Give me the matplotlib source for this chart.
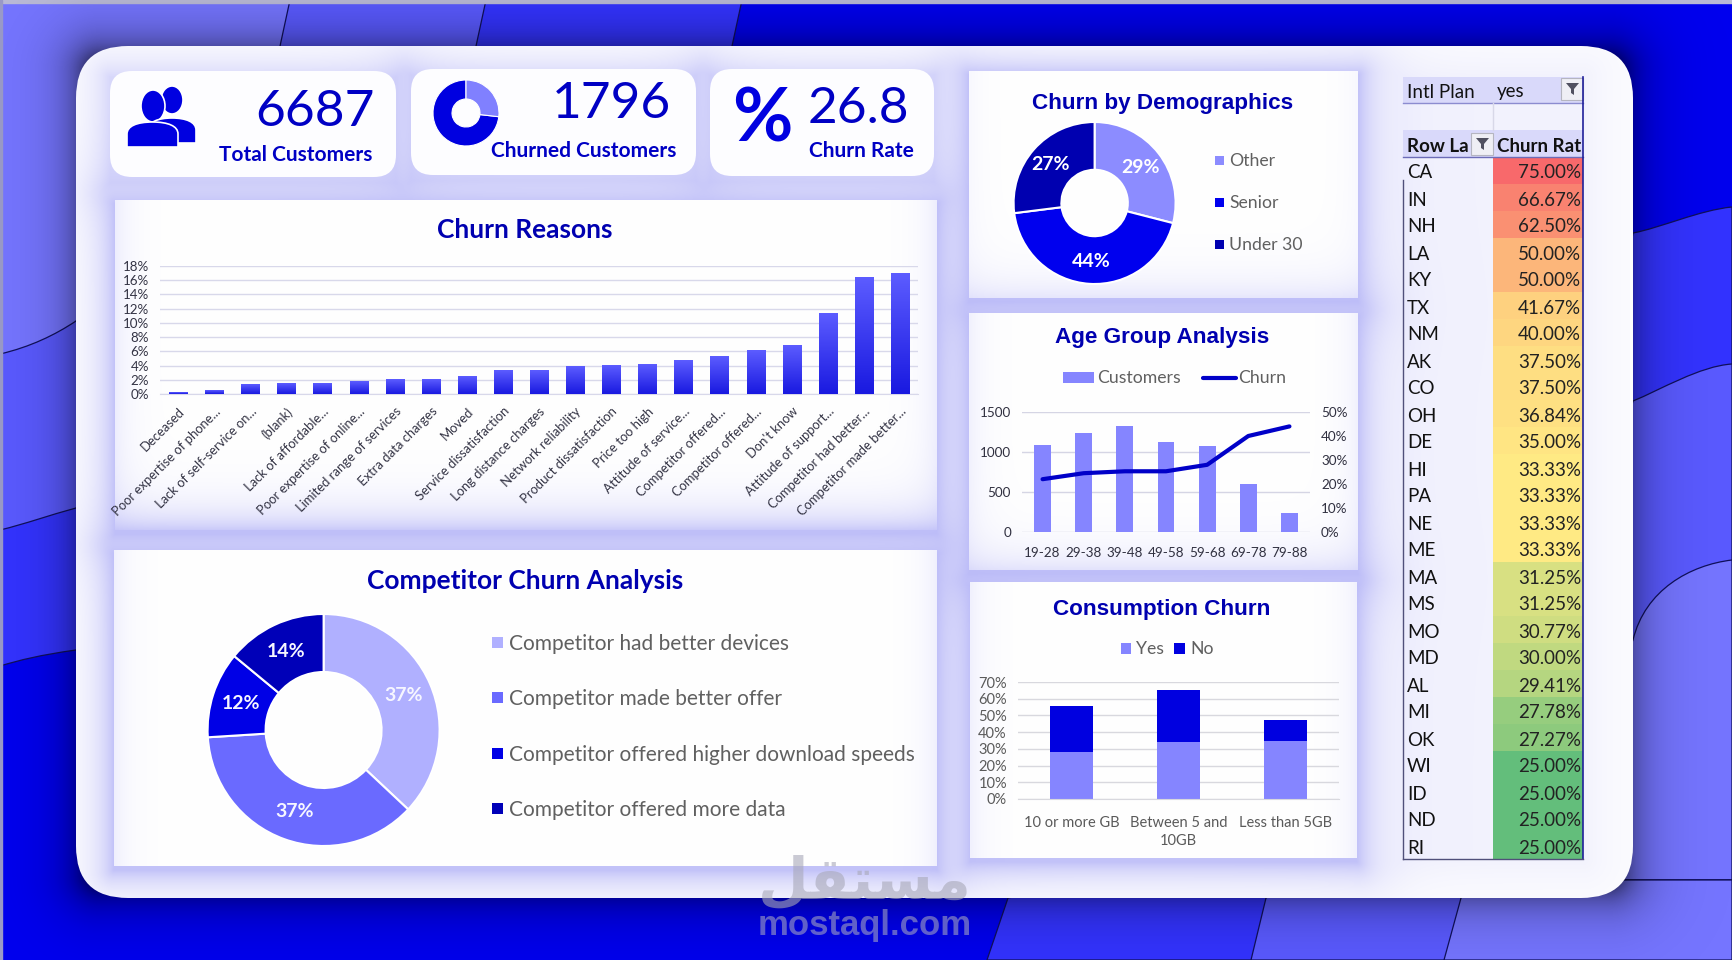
import numpy as np
import matplotlib
matplotlib.use("Agg")
import matplotlib.pyplot as plt
from matplotlib.path import Path
from matplotlib.patches import PathPatch, FancyBboxPatch, Rectangle, Ellipse, Wedge, Polygon
from matplotlib.colors import LinearSegmentedColormap, TwoSlopeNorm
from matplotlib.ticker import PercentFormatter

# ---------- data ----------
kpi_total = 6687
kpi_churned = 1796
kpi_rate = 26.8

reason_labels = ["Deceased", "Poor expertise of phone...", "Lack of self-service on...", "(blank)",
                 "Lack of affordable...", "Poor expertise of online...", "Limited range of services",
                 "Extra data charges", "Moved", "Service dissatisfaction", "Long distance charges",
                 "Network reliability", "Product dissatisfaction", "Price too high", "Attitude of service...",
                 "Competitor offered...", "Competitor offered...", "Don't know", "Attitude of support...",
                 "Competitor had better...", "Competitor made better..."]
reason_values = [0.2, 0.5, 1.3, 1.5, 1.5, 1.7, 2.0, 2.1, 2.5, 3.3, 3.3, 3.9, 4.0, 4.2, 4.7, 5.3, 6.1, 6.8, 11.3, 16.4, 16.9]

comp_labels = ["Competitor had better devices", "Competitor made better offer",
               "Competitor offered higher download speeds", "Competitor offered more data"]
comp_values = [37, 37, 12, 14]
comp_colors = ["#b0b0ff", "#6a6aff", "#0000e6", "#0000b8"]

demo_labels = ["Other", "Senior", "Under 30"]
demo_values = [29, 44, 27]
demo_colors = ["#8c8cff", "#0000ee", "#0000b0"]

age_groups = ["19-28", "29-38", "39-48", "49-58", "59-68", "69-78", "79-88"]
age_customers = [1090, 1240, 1320, 1130, 1080, 600, 240]
age_churn = [22, 24.5, 25.3, 25.3, 28, 40, 44]

cons_labels = ["10 or more GB", "Between 5 and\n10GB", "Less than 5GB"]
cons_yes = [28, 34, 35]
cons_no = [27.5, 31.5, 12]

states = ["CA", "IN", "NH", "LA", "KY", "TX", "NM", "AK", "CO", "OH", "DE", "HI", "PA", "NE", "ME",
          "MA", "MS", "MO", "MD", "AL", "MI", "OK", "WI", "ID", "ND", "RI"]
state_rates = [75.00, 66.67, 62.50, 50.00, 50.00, 41.67, 40.00, 37.50, 37.50, 36.84, 35.00, 33.33, 33.33,
               33.33, 33.33, 31.25, 31.25, 30.77, 30.00, 29.41, 27.78, 27.27, 25.00, 25.00, 25.00, 25.00]

# ---------- style ----------
W, H = 1732, 960
BODY = "Lato"
HEAD = "Liberation Sans"
NAVY = "#0000c4"
TITLE = "#0000b0"
L1, L2, L3, BASE = "#7575ff", "#5a5aff", "#3333ff", "#0000ee"
plt.rcParams["font.family"] = [BODY, "DejaVu Sans"]

fig = plt.figure(figsize=(W / 100, H / 100), dpi=100)
bg = fig.add_axes([0, 0, 1, 1])
bg.set_xlim(0, W)
bg.set_ylim(H, 0)
bg.axis("off")


def rect_ax(x0, y0, x1, y1):
    a = fig.add_axes([x0 / W, 1 - y1 / H, (x1 - x0) / W, (y1 - y0) / H])
    a.patch.set_alpha(0)
    return a


def shape(verts, color, z=1):
    """verts: first point, then triples of bezier control points"""
    codes = [Path.MOVETO]
    pts = [verts[0]]
    for v in verts[1:]:
        if len(v) == 3:
            codes += [Path.CURVE4] * 3
            pts += list(v)
        else:
            codes.append(Path.LINETO)
            pts.append(v)
    codes.append(Path.CLOSEPOLY)
    pts.append(verts[0])
    bg.add_patch(PathPatch(Path(pts, codes), facecolor=color, edgecolor="#10105a", lw=0.9, zorder=z))


# ---------- background waves ----------
bg.add_patch(Rectangle((0, 0), W, H, color=BASE, zorder=0))
shape([(0, 0), (742, 0), (729, 60), (76, 650), ((40, 655), (20, 660), (0, 666))], L3)
shape([(0, 0), (486, 0), (473, 60), (76, 508), ((50, 515), (25, 524), (0, 530))], L2)
shape([(0, 0), (290, 0), (277, 60), (76, 321), ((55, 335), (30, 347), (0, 354))], L1)
shape([(1732, 207), ((1700, 210), (1660, 228), (1633, 233)), (1500, 960), (1732, 960)], L3)
shape([(1732, 364), ((1700, 366), (1660, 390), (1633, 401)), (1500, 960), (1732, 960)], L2)
shape([(1732, 560), ((1690, 565), (1645, 590), (1633, 640)), (1500, 960), (1732, 960)], L1)
shape([(1100, 880), (1008, 898), (987, 960), (1732, 960), (1732, 880)], L3)
shape([(1300, 880), (1266, 898), (1251, 960), (1732, 960), (1732, 880)], L2)
shape([(1480, 880), (1461, 898), (1444, 960), (1732, 960), (1732, 880)], L1)
bg.add_patch(Rectangle((0, 0), W, 3, color="#b9b9d6", zorder=2))
bg.add_patch(Rectangle((0, 0), 1.5, H, color="#9a9ac8", zorder=2))

# ---------- soft shading ----------
PX0, PY0, PX1, PY1 = 76, 46, 1633, 898
yy, xx = np.mgrid[0:H, 0:W] + 0.5


def rect_dist(x0, y0, x1, y1):
    dx = np.maximum(np.maximum(x0 - xx, xx - x1), 0)
    dy = np.maximum(np.maximum(y0 - yy, yy - y1), 0)
    return np.hypot(dx, dy)


shadow = np.zeros((H, W, 4))
shadow[..., 3] = 0.5 * np.exp(-rect_dist(PX0 + 25, PY0 + 25, PX1 - 25, PY1 - 25) / 22.0) * 2.2
shadow[..., 3] = np.minimum(shadow[..., 3], 0.5)
bg.imshow(shadow, extent=(0, W, H, 0), aspect="auto", zorder=3, interpolation="bilinear")

cards = [(110, 71, 396, 177), (411, 69, 696, 175), (710, 69, 934, 176)]
panels = [(115, 200, 937, 530), (114, 550, 937, 866), (969, 71, 1358, 298), (969, 313, 1358, 570), (970, 582, 1357, 858)]

white = np.array([1.0, 1.0, 1.0])
lav = np.array([0.72, 0.72, 0.97])
keep = np.ones((H, W))
for r in cards:
    keep *= 1 - 0.55 * np.exp(-rect_dist(r[0], r[1] + 6, r[2], r[3] + 6) / 22.0)
for r in panels:
    keep *= 1 - 0.85 * np.exp(-rect_dist(r[0], r[1] + 4, r[2], r[3] + 4) / 20.0)
keep *= 1 - 0.18 * np.exp(-rect_dist(1404, 77, 1583, 859) / 40.0)
img = keep[..., None] * white + (1 - keep[..., None]) * lav
pim = bg.imshow(img, extent=(0, W, H, 0), aspect="auto", zorder=4, interpolation="bilinear")
clip = FancyBboxPatch((PX0 + 50, PY0 + 50), PX1 - PX0 - 100, PY1 - PY0 - 100,
                      boxstyle="round,pad=50,rounding_size=52", mutation_aspect=1,
                      transform=bg.transData, facecolor="none", edgecolor="none")
bg.add_patch(clip)
pim.set_clip_path(clip)

# white cards
for x0, y0, x1, y1 in cards:
    bg.add_patch(FancyBboxPatch((x0 + 22, y0 + 22), x1 - x0 - 44, y1 - y0 - 44,
                                boxstyle="round,pad=22,rounding_size=22", fc="#fdfdff", ec="none", zorder=5))
# chart panels: white, shaded towards lower edges
fade = {0: (0.75, 0.25), 1: (0.0, 0.22), 2: (0.35, 0.1), 3: (0.4, 0.2), 4: (0.0, 0.2)}
for i, (x0, y0, x1, y1) in enumerate(panels):
    py, px = np.mgrid[y0:y1, x0:x1] + 0.5
    b, s = fade[i]
    a = 1 - (1 - b * np.exp(-(y1 - py) / 20.0)) * (1 - s * np.exp(-(px - x0) / 16.0)) * (1 - s * np.exp(-(x1 - px) / 16.0))
    pic = a[..., None] * lav + (1 - a[..., None]) * white
    bg.imshow(pic, extent=(x0, x1, y1, y0), aspect="auto", zorder=5)
bg.set_xlim(0, W)
bg.set_ylim(H, 0)

# ---------- KPI cards ----------
bg.text(375, 112, str(kpi_total), ha="right", va="center", fontsize=37, color=NAVY, zorder=6)
bg.text(372, 155, "Total Customers", ha="right", va="center", fontsize=15, fontweight="bold", color=NAVY, zorder=6)
bg.text(671, 104, str(kpi_churned), ha="right", va="center", fontsize=37, color=NAVY, zorder=6)
bg.text(676, 151, "Churned Customers", ha="right", va="center", fontsize=15, fontweight="bold", color=NAVY, zorder=6)
bg.text(909, 109, str(kpi_rate), ha="right", va="center", fontsize=37, color=NAVY, zorder=6)
bg.text(914, 151, "Churn Rate", ha="right", va="center", fontsize=15, fontweight="bold", color=NAVY, zorder=6)
bg.text(762, 120, "%", ha="center", va="center", fontsize=53, fontweight="bold", color="#0000e0", zorder=6)

# people icon
ICON = "#0000e0"
for (cx, cy, rx, ry) in [(172, 100, 11, 14), (153, 106, 12, 16)]:
    bg.add_patch(Ellipse((cx, cy), 2 * rx, 2 * ry, fc=ICON, ec="white", lw=1.2, zorder=6))
for (x0, x1, y0, y1) in [(148, 196, 118, 143), (127, 178, 122, 147)]:
    w = x1 - x0
    v = [(x0, y1), (x0, y0 + 12), ((x0, y0 + 4), (x0 + 10, y0), (x0 + w / 2, y0)),
         ((x1 - 10, y0), (x1, y0 + 4), (x1, y0 + 12)), (x1, y1)]
    codes, pts = [Path.MOVETO], [v[0]]
    for q in v[1:]:
        if len(q) == 3:
            codes += [Path.CURVE4] * 3
            pts += list(q)
        else:
            codes.append(Path.LINETO)
            pts.append(q)
    codes.append(Path.CLOSEPOLY)
    pts.append(v[0])
    bg.add_patch(PathPatch(Path(pts, codes), fc=ICON, ec="white", lw=1.2, zorder=6))

# donut icon
frac = kpi_rate / 100 * 360
bg.add_patch(Wedge((466, 113), 33, -90 + frac, 270, width=19, fc=ICON, ec="white", lw=0.8, zorder=6))
bg.add_patch(Wedge((466, 113), 33, -90, -90 + frac, width=19, fc="#8080ff", ec="white", lw=0.8, zorder=6))

# ---------- Churn Reasons ----------
bg.text(525, 230, "Churn Reasons", ha="center", va="center", fontsize=19, fontweight="bold", color=TITLE, zorder=6)
ax = rect_ax(160, 266, 918, 394)
xs = np.arange(len(reason_values))
bars = ax.bar(xs, reason_values, width=0.5, color="#2a2af0", zorder=2)
grad = np.linspace(0, 1, 64)[:, None, None] * np.array([[[0.10, 0.10, 0.88]]]) + \
       (1 - np.linspace(0, 1, 64)[:, None, None]) * np.array([[[0.36, 0.36, 1.0]]])
for b in bars:
    ax.imshow(grad, extent=(b.get_x(), b.get_x() + b.get_width(), 0, b.get_height()), aspect="auto", zorder=3)
ax.set_xlim(-0.5, 20.5)
ax.set_ylim(0, 18)
ax.set_yticks(range(0, 19, 2))
ax.yaxis.set_major_formatter(PercentFormatter(decimals=0))
ax.set_xticks(xs)
ax.set_xticklabels(reason_labels, rotation=45, ha="right", va="top", rotation_mode="anchor",
                   fontsize=9.4, color="#333344")
ax.tick_params(axis="x", length=0, pad=8)
ax.tick_params(axis="y", length=0, pad=8, labelsize=9.6, labelcolor="#333344")
ax.grid(axis="y", color="#d8d8ea", lw=1, zorder=0)
for s in ax.spines.values():
    s.set_visible(False)
ax.spines["bottom"].set_visible(True)
ax.spines["bottom"].set_color("#d8d8ea")
ax.set_axisbelow(True)

# ---------- Competitor donut ----------
bg.text(525, 581, "Competitor Churn Analysis", ha="center", va="center", fontsize=19, fontweight="bold", color=TITLE, zorder=6)
ax = rect_ax(323.6 - 116, 730 - 116, 323.6 + 116, 730 + 116)
_, _, autos = ax.pie(comp_values, colors=comp_colors, startangle=90, counterclock=False, radius=1,
                     autopct="%.0f%%", pctdistance=0.75,
                     wedgeprops=dict(width=0.5, edgecolor="white", linewidth=1.5))
for t in autos:
    t.set_color("#f6f6ff")
    t.set_fontweight("bold")
    t.set_fontsize(14)
ax.set_xlim(-1, 1)
ax.set_ylim(-1, 1)
for lab, col, y in zip(comp_labels, comp_colors, (642, 697, 753, 808)):
    bg.add_patch(Rectangle((492, y - 5), 11, 11, fc=col, ec="none", zorder=6))
    bg.text(509, y + 2, lab, ha="left", va="center", fontsize=15, color="#606060", zorder=6)

# ---------- Demographics donut ----------
bg.text(1163, 103, "Churn by Demographics", ha="center", va="center", fontsize=16.2, fontweight="bold",
        family=HEAD, color=TITLE, zorder=6)
ax = rect_ax(1094.6 - 81, 203 - 81, 1094.6 + 81, 203 + 81)
_, _, autos = ax.pie(demo_values, colors=demo_colors, startangle=90, counterclock=False, radius=1,
                     autopct="%.0f%%", pctdistance=0.72,
                     wedgeprops=dict(width=0.59, edgecolor="white", linewidth=1.5))
for t in autos:
    t.set_color("white")
    t.set_fontweight("bold")
    t.set_fontsize(14)
ax.set_xlim(-1, 1)
ax.set_ylim(-1, 1)
for lab, col, y in zip(demo_labels, demo_colors, (160, 202, 244)):
    bg.add_patch(Rectangle((1215, y - 4), 9, 9, fc=col, ec="none", zorder=6))
    bg.text(1229, y + 1.5, lab, ha="left", va="center", fontsize=12.7, color="#606060", zorder=6)

# ---------- Age Group ----------
bg.text(1162, 338, "Age Group Analysis", ha="center", va="center", fontsize=16.2, fontweight="bold",
        family=HEAD, color=TITLE, zorder=6)
ax = rect_ax(1022, 412, 1310, 532)
xs = np.arange(len(age_groups))
ax.bar(xs, age_customers, width=0.41, color="#8585ff", zorder=2)
ax.set_xlim(-0.5, 6.5)
ax.set_ylim(0, 1500)
ax.set_yticks([0, 500, 1000, 1500])
ax.set_xticks(xs)
ax.set_xticklabels(age_groups)
ax.tick_params(axis="both", length=0, labelsize=9.7, labelcolor="#303040")
ax.tick_params(axis="x", pad=11)
ax.tick_params(axis="y", pad=8)
ax.grid(axis="y", color="#d5d5e4", lw=1, zorder=0)
ax.set_axisbelow(True)
for s in ax.spines.values():
    s.set_visible(False)
ax2 = ax.twinx()
ax2.patch.set_alpha(0)
ax2.plot(xs, age_churn, color="#0000c8", lw=3, solid_capstyle="round", zorder=4)
ax2.set_ylim(0, 50)
ax2.set_yticks(range(0, 51, 10))
ax2.yaxis.set_major_formatter(PercentFormatter(decimals=0))
ax2.tick_params(axis="y", length=0, labelsize=9.7, labelcolor="#303040", pad=8)
for s in ax2.spines.values():
    s.set_visible(False)
bg.add_patch(Rectangle((1063, 372), 31, 11, fc="#8585ff", ec="none", zorder=6))
bg.text(1097, 378, "Customers", ha="left", va="center", fontsize=12.7, color="#606060", zorder=6)
bg.plot([1203, 1236], [377.5, 377.5], color="#0000c8", lw=3, solid_capstyle="round", zorder=6)
bg.text(1238, 378, "Churn", ha="left", va="center", fontsize=12.7, color="#606060", zorder=6)

# ---------- Consumption ----------
bg.text(1162, 609, "Consumption Churn", ha="center", va="center", fontsize=16.2, fontweight="bold",
        family=HEAD, color=TITLE, zorder=6)
ax = rect_ax(1018, 682, 1339, 799)
xs = np.arange(len(cons_labels))
ax.bar(xs, cons_yes, width=0.4, color="#8585ff", zorder=2)
ax.bar(xs, cons_no, bottom=cons_yes, width=0.4, color="#0000e0", zorder=2)
ax.set_xlim(-0.5, 2.5)
ax.set_ylim(0, 70)
ax.set_yticks(range(0, 71, 10))
ax.yaxis.set_major_formatter(PercentFormatter(decimals=0))
ax.set_xticks(xs)
ax.set_xticklabels(cons_labels, linespacing=1.4)
ax.tick_params(axis="both", length=0, labelsize=10.5, labelcolor="#5a5a5a")
ax.tick_params(axis="x", pad=12)
ax.tick_params(axis="y", pad=8)
ax.grid(axis="y", color="#d8d8de", lw=1, zorder=0)
ax.set_axisbelow(True)
for s in ax.spines.values():
    s.set_visible(False)
ax.spines["bottom"].set_visible(True)
ax.spines["bottom"].set_color("#d8d8de")
bg.add_patch(Rectangle((1121, 643), 10, 11, fc="#8585ff", ec="none", zorder=6))
bg.text(1136, 649, "Yes", ha="left", va="center", fontsize=12.7, color="#606060", zorder=6)
bg.add_patch(Rectangle((1174, 643), 11, 11, fc="#0000e0", ec="none", zorder=6))
bg.text(1190, 649, "No", ha="left", va="center", fontsize=12.7, color="#606060", zorder=6)

# ---------- pivot table ----------
TX0, TXM, TX1 = 1403, 1493, 1583
ROW0, ROWH = 157, 27
cmap = LinearSegmentedColormap.from_list("rag", ["#63be7b", "#ffeb84", "#f8696b"])
norm = TwoSlopeNorm(vmin=min(state_rates), vcenter=33.33, vmax=max(state_rates))
rows = len(states)
y_edges = ROW0 + ROWH * np.arange(rows + 1)
bg.pcolormesh([TXM, TX1], y_edges, np.array(state_rates)[:, None], cmap=cmap, norm=norm, zorder=6)
bg.set_xlim(0, W)
bg.set_ylim(H, 0)
for i, (st, v) in enumerate(zip(states, state_rates)):
    yc = ROW0 + ROWH * (i + 0.5) + 2.5
    bg.text(TX0 + 4, yc, st, ha="left", va="center", fontsize=13.5, color="#111111", zorder=7)
    bg.text(TX1 - 2, yc, f"{v:.2f}%", ha="right", va="center", fontsize=13.5, color="#222222", zorder=7)
HDR = "#d9d9fa"
bg.add_patch(Rectangle((TX0, 77), TX1 - TX0, 26, fc=HDR, ec="none", zorder=6))
bg.add_patch(Rectangle((TX0, 130), TX1 - TX0, 27, fc=HDR, ec="none", zorder=6))
bg.text(TX0 + 4, 92, "Intl Plan", ha="left", va="center", fontsize=13.5, color="#111111", zorder=7)
bg.text(TXM + 4, 92, "yes", ha="left", va="center", fontsize=13.5, color="#111111", zorder=7)
bg.text(TX0 + 4, 146, "Row La", ha="left", va="center", fontsize=13.5, fontweight="bold", color="#111111", zorder=7)
bg.text(TXM + 4, 146, "Churn Rat", ha="left", va="center", fontsize=13.5, fontweight="bold", color="#111111", zorder=7)
for (x0, y0) in [(1561, 78), (1471, 133)]:
    bg.add_patch(Rectangle((x0, y0), 22, 22, fc="#efeff5", ec="#b5b5c0", lw=0.8, zorder=8))
    bg.add_patch(Polygon([(x0 + 5, y0 + 5), (x0 + 18, y0 + 5), (x0 + 13, y0 + 11), (x0 + 13, y0 + 17), (x0 + 10, y0 + 15), (x0 + 10, y0 + 11)],
                         fc="#505060", ec="none", zorder=9))
bg.plot([TX0, TX1], [103, 103], color="#8c8cd0", lw=1, zorder=8)
bg.plot([TX0, TX1], [157, 157], color="#6c6cb8", lw=1, zorder=8)
bg.plot([TX1, TX1], [77, 859], color="#20209a", lw=1.2, zorder=8)
bg.plot([TX0, TX0], [180, 859], color="#50507a", lw=1, zorder=8)
bg.plot([TX0, TX1], [859, 859], color="#50507a", lw=1, zorder=8)
bg.plot([TXM, TXM], [103, 130], color="#d8d8e8", lw=1, zorder=8)

# ---------- watermark ----------
bg.text(865, 882, "\uFEDE\uFED8\uFE98\uFEB4\uFEE3", ha="center", va="center", fontsize=42, fontweight="bold",
        family="DejaVu Sans", color="#a8a8b8", alpha=0.6, zorder=20)
bg.text(865, 925, "mostaql.com", ha="center", va="center", fontsize=25, fontweight="bold",
        family=HEAD, color="#b0b0c0", alpha=0.55, zorder=20)

fig.savefig("out.png", dpi=100)
